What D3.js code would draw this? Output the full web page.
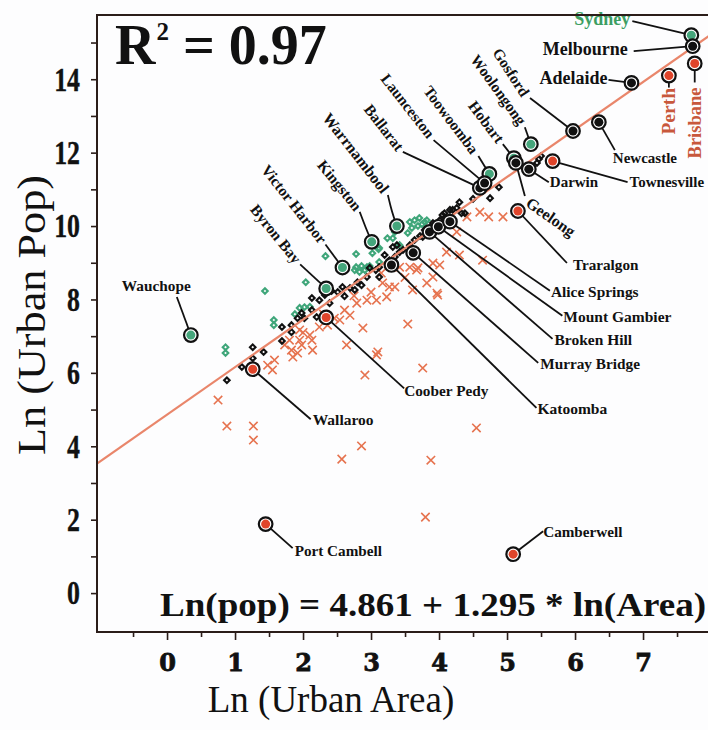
<!DOCTYPE html>
<html>
<head>
<meta charset="utf-8">
<script src="https://cdn.jsdelivr.net/npm/d3@7"></script>
<style>
  body { margin: 0; background: #fdfdfe; }
  svg { display: block; }
</style>
</head>
<body>
<svg id="chart"></svg>
<script>
// regression
const intercept = 4.861;
const slope = 1.295;
const rSquared = 0.97;

// [ln(area), ln(pop)]
const redPoints = [
  [0.75, 5.26], [0.88, 4.55], [1.27, 4.55], [1.27, 4.17], [2.57, 3.65], [2.86, 4.01],
  [3.88, 3.62], [3.80, 2.07], [4.55, 4.50], [3.10, 6.57], [3.54, 7.33], [3.76, 6.13],
  [3.98, 8.12], [4.64, 9.07], [4.11, 9.29], [3.91, 8.99], [3.69, 8.86], [3.35, 8.34],
  [3.27, 8.34], [4.60, 10.38], [4.94, 10.25], [4.26, 9.84], [4.41, 10.25], [2.91, 5.94],
  [2.64, 6.76], [2.88, 7.22], [3.08, 6.49], [1.48, 6.21], [1.58, 6.35], [1.55, 6.08],
  [1.83, 6.62], [1.85, 6.43], [1.92, 6.54], [1.98, 6.76], [2.13, 6.89], [2.14, 6.62],
  [2.24, 7.25], [3.15, 8.72], [3.17, 8.45], [3.42, 8.88], [3.57, 8.88], [3.67, 8.80],
  [4.01, 8.94], [3.97, 8.17], [3.91, 8.61], [3.82, 8.45], [3.61, 8.26], [3.23, 8.07],
  [3.08, 7.98], [2.94, 7.98], [2.79, 7.90], [2.61, 7.71], [2.46, 7.49], [2.36, 7.30],
  [2.54, 7.44], [2.69, 7.57], [2.10, 7.03], [1.95, 6.89], [1.73, 6.76], [4.30, 9.21],
  [4.73, 10.25], [1.95, 7.17], [1.80, 6.89], [2.00, 7.10], [2.30, 7.60], [2.75, 8.10],
  [3.00, 8.20], [3.50, 8.60]
];

const greenPoints = [
  [1.44, 8.23], [2.04, 8.47], [1.57, 7.44], [1.57, 7.30], [0.86, 6.70], [0.86, 6.54],
  [1.88, 7.60], [1.95, 7.77], [2.02, 7.79], [2.33, 9.18], [2.78, 9.24], [2.78, 8.88],
  [2.86, 8.91], [2.94, 8.88], [3.02, 9.26], [3.07, 9.51], [3.11, 9.37], [3.12, 9.02],
  [2.76, 8.80], [2.83, 8.75], [2.91, 8.80], [2.98, 8.91], [3.24, 9.67], [3.35, 9.84],
  [3.54, 9.81], [3.57, 10.11], [3.64, 10.16], [3.71, 10.22], [3.79, 10.11], [3.69, 10.00],
  [3.82, 10.16], [3.32, 9.67], [3.42, 9.48], [3.12, 9.40], [2.10, 7.80], [3.60, 9.95],
  [3.75, 10.05]
];

const blackPoints = [
  [0.88, 5.80], [1.10, 6.16], [1.26, 6.40], [1.26, 6.70], [1.42, 6.57], [1.69, 6.87],
  [1.69, 7.25], [1.83, 7.30], [1.83, 7.11], [1.98, 7.63], [2.13, 7.71], [2.20, 7.52],
  [2.24, 7.98], [2.13, 8.04], [2.02, 7.49], [1.92, 7.49], [2.32, 8.12], [2.42, 8.23],
  [2.51, 8.20], [2.58, 8.34], [2.69, 8.31], [2.80, 8.47], [2.86, 8.39], [2.94, 8.61],
  [2.98, 8.86], [3.07, 8.80], [3.12, 8.88], [3.20, 9.21], [3.27, 9.07], [3.35, 9.16],
  [3.38, 9.48], [3.47, 9.35], [3.57, 9.48], [3.64, 9.62], [3.76, 9.70], [3.82, 9.89],
  [3.91, 10.08], [4.05, 10.30], [4.16, 10.44], [4.20, 10.44], [4.26, 10.49], [4.30, 10.65],
  [4.38, 10.35], [4.08, 10.35], [3.79, 9.89], [3.32, 9.43], [3.42, 9.29], [3.12, 8.61],
  [4.50, 10.74], [4.75, 10.76], [4.88, 11.06], [4.33, 10.35], [5.44, 11.72], [5.47, 11.83],
  [5.50, 11.91], [2.39, 7.90], [2.61, 8.09], [2.76, 8.26], [4.01, 10.16], [3.72, 9.73]
];

// named towns
const cityNames = ['Sydney', 'Melbourne', 'Adelaide', 'Perth', 'Brisbane', 'Gosford', 'Newcastle',
  'Woolongong', 'Hobart', 'Geelong', 'Darwin', 'Townesville', 'Traralgon', 'Toowoomba', 'Ballarat',
  'Launceston', 'Warrnambool', 'Kingston', 'Victor Harbor', 'Byron Bay', 'Wauchope', 'Wallaroo',
  'Coober Pedy', 'Katoomba', 'Murray Bridge', 'Broken Hill', 'Mount Gambier', 'Alice Springs',
  'Port Cambell', 'Camberwell'];
const cityArea = [7.71, 7.73, 6.83, 7.38, 7.76, 5.97, 6.35, 5.35, 5.10, 5.13, 5.32, 5.67, 5.16, 4.74, 4.60,
  4.67, 3.38, 3.01, 2.58, 2.34, 0.35, 1.26, 2.34, 3.30, 3.62, 3.86, 3.99, 4.16, 1.45, 5.09];
const cityPop = [15.20, 14.90, 13.90, 14.10, 14.43, 12.59, 12.83, 12.23, 11.85, 11.72, 11.55, 11.77, 10.41, 11.42,
  11.04, 11.17, 10.00, 9.57, 8.87, 8.30, 7.03, 6.10, 7.51, 8.94, 9.27, 9.84, 9.98, 10.12, 1.88, 1.06];
const cityGroup = ['green', 'black', 'black', 'red', 'red', 'black', 'black', 'green', 'green', 'black',
  'black', 'red', 'red', 'green', 'black', 'black', 'green', 'green', 'green', 'green', 'green', 'red',
  'red', 'black', 'black', 'black', 'black', 'black', 'red', 'red'];

const xTickLabels = [0, 1, 2, 3, 4, 5, 6, 7];
const yTickLabels = [0, 2, 4, 6, 8, 10, 12, 14];

// label placement, pixel offsets from the marker
const labelLayout = {
  'Sydney':        { t: [-117, -10], size: 18, lead: [[-59, -14]] },
  'Melbourne':     { t: [-150, 9], size: 18, lead: [[-59, 5]] },
  'Adelaide':      { t: [-92, 1], size: 18, lead: [[-23, -3]] },
  'Perth':         { t: [6, 59], rot: -90, size: 19.5, lead: [[0, 12]] },
  'Brisbane':      { t: [6, 95], rot: -90, size: 18.5, lead: [[0, 19]] },
  'Gosford':       { t: [-47, -36], rot: 57, anchor: 'end', size: 15.5, lead: [[-43, -33]] },
  'Woolongong':    { t: [-8, -21], rot: 54, anchor: 'end', size: 15.5, lead: [[-6, -17]] },
  'Hobart':        { t: [-13, -17], rot: 53, anchor: 'end', size: 15.5, lead: [[-11, -14]] },
  'Toowoomba':     { t: [-14, -22], rot: 53, anchor: 'end', size: 15.5, lead: [[-11, -18]] },
  'Launceston':    { t: [-53, -47], rot: 52, anchor: 'end', size: 15.5, lead: [[-51, -43]] },
  'Ballarat':      { t: [-79, -39], rot: 52, anchor: 'end', size: 15.5, lead: [[-77, -36]] },
  'Warrnambool':   { t: [-11, -35], rot: 52, anchor: 'end', size: 16, lead: [[-9, -31], [-5, -14]] },
  'Kingston':      { t: [-13, -33], rot: 51, anchor: 'end', size: 15.5, lead: [[-12, -30], [-6, -14]] },
  'Victor Harbor': { t: [-19, -26], rot: 52, anchor: 'end', size: 15.5, lead: [[-17, -23]] },
  'Byron Bay':     { t: [-28, -27], rot: 51, anchor: 'end', size: 15.5, lead: [[-26, -24]] },
  'Geelong':       { t: [12, 38], rot: 35, anchor: 'start', size: 16, lead: [[9, 33]] },
  'Newcastle':     { t: [14, 41], size: 15, lead: [[16, 28]] },
  'Townesville':   { t: [77, 26], size: 15, lead: [[75, 21]] },
  'Darwin':        { t: [21, 18], size: 15, lead: [[20, 13]] },
  'Traralgon':     { t: [55, 59], size: 15.2, lead: [[49, 52]] },
  'Alice Springs': { t: [101, 75], size: 15.4, lead: [[100, 69]] },
  'Mount Gambier': { t: [125, 95], size: 15.5, lead: [[124, 89]] },
  'Broken Hill':   { t: [125, 113], size: 15.5, lead: [[123, 107]] },
  'Murray Bridge': { t: [127, 116], size: 15.3, lead: [[125, 110]] },
  'Katoomba':      { t: [146, 149], size: 15.5, lead: [[145, 143]] },
  'Coober Pedy':   { t: [78, 79], size: 15.3, lead: [[78, 71]] },
  'Wallaroo':      { t: [60, 56], size: 15.5, lead: [[58, 50]] },
  'Port Cambell':  { t: [29, 32], size: 15.2, lead: [[27, 24]] },
  'Camberwell':    { t: [30, -17], size: 15.2, lead: [[30, -23]] },
  'Wauchope':      { t: [-69, -44], size: 15.3, lead: [[-14, -38]] }
};

const width = 708;
const height = 730;
const plotLeft = 97, plotRight = 709, plotTop = 15, plotBottom = 632;

const fillColor = { green: '#45a67c', black: '#111111', red: '#e0452b' };
const serif = '"Liberation Serif", "Times New Roman", serif';

const svg = d3.select('#chart')
  .attr('width', width)
  .attr('height', height);

svg.append('rect')
  .attr('width', width)
  .attr('height', height)
  .attr('fill', '#fdfdfe');

let x = d3.scaleLinear()
  .domain([-1.03, 7.97])
  .range([plotLeft, plotRight]);

let y = d3.scaleLinear()
  .domain([-1.06, 15.75])
  .range([plotBottom, plotTop]);

svg.append('clipPath')
  .attr('id', 'plot-clip')
  .append('rect')
  .attr('x', plotLeft)
  .attr('y', plotTop)
  .attr('width', plotRight - plotLeft)
  .attr('height', plotBottom - plotTop);

const plot = svg.append('g').attr('clip-path', 'url(#plot-clip)');

// red crosses
plot.append('g')
  .selectAll('path')
  .data(redPoints)
  .enter()
  .append('path')
  .attr('d', d3.symbol(d3.symbolX, 48))
  .attr('transform', d => 'translate(' + x(d[0]) + ',' + y(d[1]) + ')')
  .attr('fill', 'none')
  .attr('stroke', '#e6734f')
  .attr('stroke-width', 1.6);

// green diamonds
plot.append('g')
  .selectAll('path')
  .data(greenPoints)
  .enter()
  .append('path')
  .attr('d', d3.symbol(d3.symbolDiamond2, 20))
  .attr('transform', d => 'translate(' + x(d[0]) + ',' + y(d[1]) + ')')
  .attr('fill', 'none')
  .attr('stroke', '#3fa67a')
  .attr('stroke-width', 2.1);

// black diamonds
plot.append('g')
  .selectAll('path')
  .data(blackPoints)
  .enter()
  .append('path')
  .attr('d', d3.symbol(d3.symbolDiamond2, 20))
  .attr('transform', d => 'translate(' + x(d[0]) + ',' + y(d[1]) + ')')
  .attr('fill', 'none')
  .attr('stroke', '#111')
  .attr('stroke-width', 2.1);

// fitted line
const fit = v => intercept + slope * v;
plot.append('line')
  .attr('x1', x(x.domain()[0]))
  .attr('y1', y(fit(x.domain()[0])))
  .attr('x2', x(x.domain()[1]))
  .attr('y2', y(fit(x.domain()[1])))
  .attr('stroke', '#e9866b')
  .attr('stroke-width', 2.2);

const cities = cityNames.map((name, i) => ({
  name: name, area: cityArea[i], pop: cityPop[i], group: cityGroup[i]
}));

// leader lines
const lead = svg.append('g');
cities.forEach(c => {
  const px = x(c.area), py = y(c.pop);
  const L = labelLayout[c.name];
  const pts = L.lead.map(p => [px + p[0], py + p[1]]).concat([[px, py]]);
  lead.append('path')
    .attr('d', d3.line().curve(d3.curveBasis)(pts))
    .attr('fill', 'none')
    .attr('stroke', '#111')
    .attr('stroke-width', 1.8);
});

// town markers
const marks = svg.append('g')
  .selectAll('g')
  .data(cities)
  .enter()
  .append('g')
  .attr('transform', d => 'translate(' + x(d.area) + ',' + y(d.pop) + ')');

marks.append('circle')
  .attr('r', 6.8)
  .attr('fill', '#fff')
  .attr('stroke', '#111')
  .attr('stroke-width', 2.2);

marks.append('circle')
  .attr('r', 4.5)
  .attr('fill', d => fillColor[d.group]);

// town labels
cities.forEach(c => {
  const L = labelLayout[c.name];
  const tx = x(c.area) + L.t[0], ty = y(c.pop) + L.t[1];
  let color = '#111';
  if (c.name === 'Sydney') color = '#3c9e62';
  if (c.name === 'Perth' || c.name === 'Brisbane') color = '#c8583c';
  const t = svg.append('text')
    .attr('transform', 'translate(' + tx + ',' + ty + ') rotate(' + (L.rot || 0) + ')')
    .attr('font-family', serif)
    .attr('font-weight', 'bold')
    .attr('font-size', L.size)
    .attr('fill', color)
    .attr('text-anchor', L.anchor || 'start')
    .text(c.name);
  if (L.rot && L.rot > 0) t.attr('dy', '0.35em');
});

// axes
const yAxis = d3.axisLeft(y)
  .tickValues(d3.range(0, 16))
  .tickSize(6)
  .tickFormat(d => yTickLabels.indexOf(d) >= 0 ? d : '');

const gy = svg.append('g')
  .attr('transform', 'translate(' + plotLeft + ',0)')
  .call(yAxis);
gy.select('.domain').remove();
gy.selectAll('line').attr('stroke', '#2b1d19').attr('stroke-width', 1.6);
gy.selectAll('text')
  .attr('x', null)
  .attr('transform', 'translate(-17,0) scale(0.76,1)')
  .attr('font-family', serif)
  .attr('font-weight', 'bold')
  .attr('font-size', 34)
  .attr('stroke', '#111')
  .attr('stroke-width', 0.4)
  .attr('fill', '#111');

const xAxis = d3.axisBottom(x)
  .tickValues(d3.range(-0.5, 8, 0.5))
  .tickSize(7)
  .tickFormat(d => xTickLabels.indexOf(d) >= 0 ? d : '');

const gx = svg.append('g')
  .attr('transform', 'translate(0,' + plotBottom + ')')
  .call(xAxis);
gx.select('.domain').remove();
gx.selectAll('line')
  .attr('stroke', '#2b1d19')
  .attr('stroke-width', 1.6)
  .attr('y2', d => Number.isInteger(d) ? 8 : 5);
gx.selectAll('text')
  .attr('y', 39)
  .attr('dy', null)
  .attr('font-family', '"DejaVu Serif", serif')
  .attr('font-weight', 'bold')
  .attr('font-size', 24)
  .attr('stroke', '#111')
  .attr('stroke-width', 0.8)
  .attr('fill', '#111');

// frame
svg.append('path')
  .attr('d', 'M' + plotRight + ',' + plotTop + 'H' + plotLeft + 'V' + plotBottom + 'H' + plotRight)
  .attr('fill', 'none')
  .attr('stroke', '#2b1d19')
  .attr('stroke-width', 2);

// R squared
const r2 = svg.append('text')
  .attr('x', 115)
  .attr('y', 64)
  .attr('font-family', serif)
  .attr('font-weight', 'bold')
  .attr('font-size', 56)
  .attr('fill', '#111');
r2.append('tspan').text('R');
r2.append('tspan').attr('font-size', 25).attr('dx', 1).attr('dy', -24).text('2');
r2.append('tspan').attr('dy', 24).text(' = ' + rSquared.toFixed(2));

// equation
svg.append('text')
  .attr('x', 160)
  .attr('y', 616)
  .attr('textLength', 546)
  .attr('lengthAdjust', 'spacingAndGlyphs')
  .attr('font-family', serif)
  .attr('font-weight', 'bold')
  .attr('font-size', 33)
  .attr('fill', '#111')
  .text('Ln(pop) = ' + intercept + ' + ' + slope + ' * ln(Area)');

// axis titles
svg.append('text')
  .attr('x', 331)
  .attr('y', 712)
  .attr('text-anchor', 'middle')
  .attr('font-family', serif)
  .attr('font-size', 37)
  .attr('fill', '#111')
  .text('Ln (Urban Area)');

svg.append('text')
  .attr('transform', 'translate(45,315) rotate(-90)')
  .attr('text-anchor', 'middle')
  .attr('textLength', 280)
  .attr('lengthAdjust', 'spacingAndGlyphs')
  .attr('font-family', serif)
  .attr('font-size', 40)
  .attr('fill', '#111')
  .text('Ln (Urban Pop)');
</script>
</body>
</html>
